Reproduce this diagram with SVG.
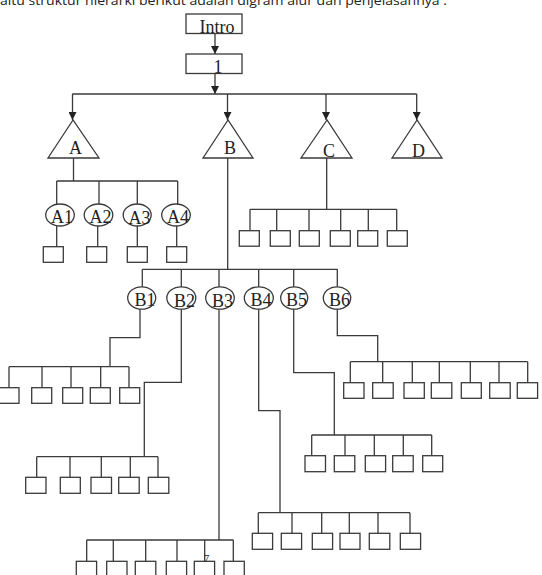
<svg xmlns="http://www.w3.org/2000/svg" width="542" height="575" viewBox="0 0 542 575">
<style>
.ln{fill:none;stroke:#3a3a3a;stroke-width:1.3}
.nd{fill:#fff;stroke:#3a3a3a;stroke-width:1.3}
.lbl{font-family:"Liberation Serif",serif;font-size:18px;text-anchor:middle;fill:#222}
.hdr{font-family:"Open Sans","DejaVu Sans",sans-serif;font-size:13px;fill:#222}
.sm{font-family:"Liberation Serif",serif;font-size:11px;text-anchor:middle;fill:#222}
</style>
<defs>
<marker id="ah" markerUnits="userSpaceOnUse" markerWidth="8" markerHeight="8" refX="8" refY="4" orient="auto">
<path d="M0,0 L8,4 L0,8 z" fill="#222"/>
</marker>
</defs>
<rect width="542" height="575" fill="#fff"/>
<text class="hdr" x="0" y="4.5" textLength="447" lengthAdjust="spacingAndGlyphs">aitu struktur hierarki berikut adalah digram alur dan penjelasannya :</text>

<g id="connectors">
<line class="ln" x1="215" y1="33.5" x2="215" y2="54" marker-end="url(#ah)"/>
<line class="ln" x1="215" y1="73.5" x2="215" y2="94" marker-end="url(#ah)"/>
<line class="ln" x1="72.3" y1="94" x2="416.7" y2="94"/>
<line class="ln" x1="72.5" y1="94" x2="72.5" y2="120" marker-end="url(#ah)"/>
<line class="ln" x1="227.5" y1="94" x2="227.5" y2="120" marker-end="url(#ah)"/>
<line class="ln" x1="326" y1="94" x2="326" y2="120" marker-end="url(#ah)"/>
<line class="ln" x1="416.7" y1="94" x2="416.7" y2="120" marker-end="url(#ah)"/>
<!-- A -->
<path class="ln" d="M73.5,158 V181 M56.7,181 H177.7 M56.7,181 V205 M99,181 V205 M137.3,181 V205 M177.7,181 V205"/>
<path class="ln" d="M56.7,226 V246.7 M97.7,226 V246.7 M137.3,226 V246.7 M176.7,226 V246.7"/>
<!-- C -->
<path class="ln" d="M326.7,158 V209.3 M250,209.3 H396.7 M250,209.3 V230.7 M276.7,209.3 V230.7 M309,209.3 V230.7 M340.7,209.3 V230.7 M368.3,209.3 V230.7 M396.7,209.3 V230.7"/>
<!-- B -->
<path class="ln" d="M227.7,158 V269.3 M142.3,269.3 H337.7 M142.3,269.3 V287 M181.3,269.3 V287 M219,269.3 V287 M258.7,269.3 V287 M293.7,269.3 V287 M337.3,269.3 V287"/>
<!-- B1 -->
<path class="ln" d="M140,309 V337.7 H110 V366.7 M9,366.7 H129 M9,366.7 V387.7 M42,366.7 V387.7 M71,366.7 V387.7 M100.7,366.7 V387.7 M129,366.7 V387.7"/>
<!-- B2 -->
<path class="ln" d="M181.3,309 V382.3 H144.3 V456.7 M36.7,456.7 H158 M36.7,456.7 V477.3 M70,456.7 V477.3 M101.3,456.7 V477.3 M130.3,456.7 V477.3 M158,456.7 V477.3"/>
<!-- B3 -->
<path class="ln" d="M219,309 V540 M86.7,540 H233.3 M86.7,540 V561.3 M113.3,540 V561.3 M145.7,540 V561.3 M177,540 V561.3 M204.7,540 V561.3 M233.3,540 V561.3"/>
<!-- B4 -->
<path class="ln" d="M258.7,309 V410.7 H280 V512.7 M258.3,512.7 H410 M258.3,512.7 V533.3 M292,512.7 V533.3 M321.7,512.7 V533.3 M349.3,512.7 V533.3 M378,512.7 V533.3 M410,512.7 V533.3"/>
<!-- B5 -->
<path class="ln" d="M293.7,309 V372.7 H334.3 V435 M311.7,435 H431.7 M311.7,435 V455.7 M345,435 V455.7 M374.3,435 V455.7 M403.3,435 V455.7 M431.7,435 V455.7"/>
<!-- B6 -->
<path class="ln" d="M337.3,309 V335.7 H377.7 V361.7 M350.3,361.7 H527.7 M350.3,361.7 V382.7 M382.7,361.7 V382.7 M412.3,361.7 V382.7 M439.3,361.7 V382.7 M470.3,361.7 V382.7 M499,361.7 V382.7 M527.7,361.7 V382.7"/>
</g>

<g id="intro"><rect class="nd" x="186" y="14" width="56" height="19.5"/><text class="lbl" x="217" y="32.5">Intro</text></g>
<g id="n1"><rect class="nd" x="186" y="54" width="56" height="19.5"/><text class="lbl" x="218" y="73">1</text></g>

<g id="A"><polygon class="nd" points="73,120 48,158 99,158"/><text class="lbl" x="75.5" y="154">A</text></g>
<g id="B"><polygon class="nd" points="228,120 203,158 253,158"/><text class="lbl" x="230" y="154">B</text></g>
<g id="C"><polygon class="nd" points="327,120 301,158 352,158"/><text class="lbl" x="329" y="156.5">C</text></g>
<g id="D"><polygon class="nd" points="417,120 392,158 442,158"/><text class="lbl" x="418.5" y="156.5">D</text></g>

<g id="A1"><ellipse class="nd" cx="60" cy="215" rx="14.3" ry="11"/><text class="lbl" x="62" y="223">A1</text></g>
<g id="A2"><ellipse class="nd" cx="98.5" cy="215" rx="14.3" ry="11"/><text class="lbl" x="100.5" y="223">A2</text></g>
<g id="A3"><ellipse class="nd" cx="137.2" cy="215" rx="14" ry="11"/><text class="lbl" x="139.5" y="224">A3</text></g>
<g id="A4"><ellipse class="nd" cx="176" cy="215" rx="14.3" ry="11"/><text class="lbl" x="178" y="223">A4</text></g>

<g id="A1box"><rect class="nd" x="43.3" y="246.7" width="20" height="15.6"/></g>
<g id="A2box"><rect class="nd" x="86.7" y="246.7" width="20" height="15.6"/></g>
<g id="A3box"><rect class="nd" x="127.3" y="246.7" width="20" height="15.6"/></g>
<g id="A4box"><rect class="nd" x="166.7" y="246.7" width="20" height="15.6"/></g>

<g id="C1"><rect class="nd" x="239.3" y="230.7" width="20" height="15.5"/></g>
<g id="C2"><rect class="nd" x="270.3" y="230.7" width="20" height="15.5"/></g>
<g id="C3"><rect class="nd" x="299.3" y="230.7" width="20" height="15.5"/></g>
<g id="C4"><rect class="nd" x="330.3" y="230.7" width="20" height="15.5"/></g>
<g id="C5"><rect class="nd" x="357.7" y="230.7" width="20" height="15.5"/></g>
<g id="C6"><rect class="nd" x="387.3" y="230.7" width="20" height="15.5"/></g>

<g id="B1"><ellipse class="nd" cx="141.7" cy="298" rx="14" ry="11.2"/><text class="lbl" x="145" y="306">B1</text></g>
<g id="B2"><ellipse class="nd" cx="181.3" cy="298" rx="14.5" ry="11.2"/><text class="lbl" x="184.5" y="306.5">B2</text></g>
<g id="B3"><ellipse class="nd" cx="220" cy="298" rx="14.3" ry="11.2"/><text class="lbl" x="222.5" y="306.5">B3</text></g>
<g id="B4"><ellipse class="nd" cx="258.8" cy="298" rx="14.5" ry="11.2"/><text class="lbl" x="261" y="306">B4</text></g>
<g id="B5"><ellipse class="nd" cx="294.2" cy="298" rx="13.5" ry="11.2"/><text class="lbl" x="296.5" y="306">B5</text></g>
<g id="B6"><ellipse class="nd" cx="337" cy="298" rx="13.7" ry="11.2"/><text class="lbl" x="339.5" y="306">B6</text></g>

<g id="B1-1"><rect class="nd" x="-1" y="387.7" width="20" height="15.6"/></g>
<g id="B1-2"><rect class="nd" x="31.7" y="387.7" width="20" height="15.6"/></g>
<g id="B1-3"><rect class="nd" x="62.7" y="387.7" width="20" height="15.6"/></g>
<g id="B1-4"><rect class="nd" x="90.3" y="387.7" width="20" height="15.6"/></g>
<g id="B1-5"><rect class="nd" x="119.7" y="387.7" width="20" height="15.6"/></g>

<g id="B2-1"><rect class="nd" x="25.7" y="477.3" width="20.3" height="16"/></g>
<g id="B2-2"><rect class="nd" x="60.3" y="477.3" width="20" height="16"/></g>
<g id="B2-3"><rect class="nd" x="91" y="477.3" width="20.5" height="16"/></g>
<g id="B2-4"><rect class="nd" x="118.7" y="477.3" width="20.5" height="16"/></g>
<g id="B2-5"><rect class="nd" x="148.3" y="477.3" width="20.5" height="16"/></g>

<g id="B3-1"><rect class="nd" x="76.3" y="561.3" width="20.3" height="16"/></g>
<g id="B3-2"><rect class="nd" x="106.7" y="561.3" width="20.3" height="16"/></g>
<g id="B3-3"><rect class="nd" x="135.3" y="561.3" width="20.5" height="16"/></g>
<g id="B3-4"><rect class="nd" x="166.3" y="561.3" width="20.3" height="16"/></g>
<g id="B3-5"><rect class="nd" x="194.3" y="561.3" width="20.3" height="16"/><text class="sm" x="206.5" y="561.5">7</text></g>
<g id="B3-6"><rect class="nd" x="224" y="561.3" width="20.3" height="16"/></g>

<g id="B4-1"><rect class="nd" x="252.3" y="533.3" width="20.3" height="16"/></g>
<g id="B4-2"><rect class="nd" x="281.3" y="533.3" width="20.3" height="16"/></g>
<g id="B4-3"><rect class="nd" x="312.3" y="533.3" width="20.3" height="16"/></g>
<g id="B4-4"><rect class="nd" x="340" y="533.3" width="20" height="16"/></g>
<g id="B4-5"><rect class="nd" x="369.3" y="533.3" width="20.5" height="16"/></g>
<g id="B4-6"><rect class="nd" x="400.3" y="533.3" width="20.3" height="16"/></g>

<g id="B5-1"><rect class="nd" x="305" y="455.7" width="20.5" height="16"/></g>
<g id="B5-2"><rect class="nd" x="334.3" y="455.7" width="20.5" height="16"/></g>
<g id="B5-3"><rect class="nd" x="365.3" y="455.7" width="20.3" height="16"/></g>
<g id="B5-4"><rect class="nd" x="392.7" y="455.7" width="20.5" height="16"/></g>
<g id="B5-5"><rect class="nd" x="422.7" y="455.7" width="20" height="16"/></g>

<g id="B6-1"><rect class="nd" x="343.7" y="382.7" width="20.3" height="15.6"/></g>
<g id="B6-2"><rect class="nd" x="372.7" y="382.7" width="20.5" height="15.6"/></g>
<g id="B6-3"><rect class="nd" x="404" y="382.7" width="20.3" height="15.6"/></g>
<g id="B6-4"><rect class="nd" x="431.3" y="382.7" width="20.5" height="15.6"/></g>
<g id="B6-5"><rect class="nd" x="461.3" y="382.7" width="20" height="15.6"/></g>
<g id="B6-6"><rect class="nd" x="489.7" y="382.7" width="20.5" height="15.6"/></g>
<g id="B6-7"><rect class="nd" x="517.3" y="382.7" width="20.3" height="15.6"/></g>
</svg>
